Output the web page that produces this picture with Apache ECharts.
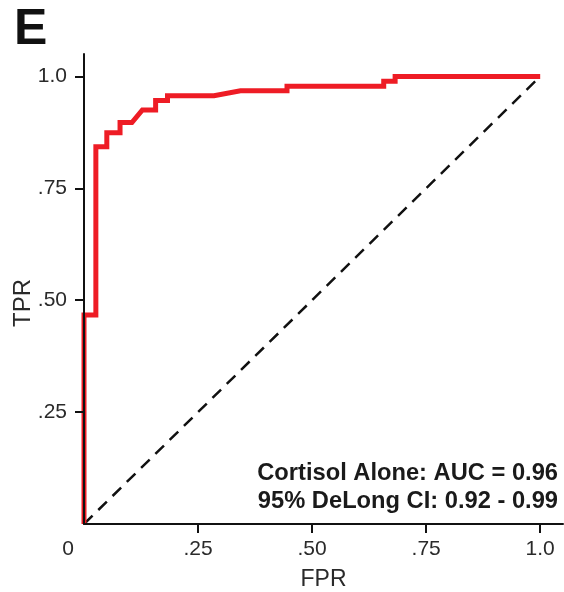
<!DOCTYPE html>
<html>
<head>
<meta charset="utf-8">
<script src="https://cdn.jsdelivr.net/npm/echarts@6/dist/echarts.min.js"></script>
<style>html,body{margin:0;padding:0;background:#fff}#c{width:564px;height:592px}</style>
</head>
<body>
<div id="c"></div>
<script>
// ROC curve (Cortisol Alone)
const fpr = [0, 0, 0.026, 0.026, 0.050, 0.050, 0.079, 0.079, 0.105, 0.128, 0.157, 0.157, 0.183, 0.183, 0.285, 0.343, 0.445, 0.445, 0.657, 0.657, 0.682, 0.682, 1.0];
const tpr = [0, 0.467, 0.467, 0.843, 0.843, 0.874, 0.874, 0.897, 0.897, 0.925, 0.925, 0.946, 0.946, 0.957, 0.957, 0.968, 0.968, 0.978, 0.978, 0.989, 0.989, 1.0, 1.0];
const refX = [0, 1];
const refY = [0, 1];
const tickValues = [0.25, 0.5, 0.75, 1.0];
const xLabelValues = [0, 0.25, 0.5, 0.75, 1.0];
const xTickLabels = ['0', '.25', '.50', '.75', '1.0'];
const yTickLabels = ['.25', '.50', '.75', '1.0'];
const panelLetter = 'E';
const annotation = ['Cortisol Alone: AUC = 0.96', '95% DeLong CI: 0.92 - 0.99'];

const FONT = '"Liberation Sans", Arial, sans-serif';
const chart = echarts.init(document.getElementById('c'));
chart.setOption({
  animation: false,
  backgroundColor: '#fff',
  title: {
    text: panelLetter, left: 9, top: 0,
    textStyle: { fontFamily: FONT, fontSize: 50, fontWeight: 'bold', color: '#111' }
  },
  grid: { left: 84, top: 54, width: 479, height: 470, containLabel: false, outerBoundsMode: 'none' },
  xAxis: {
    type: 'value', min: 0, max: 1.05, interval: 0.25, z: 5,
    name: 'FPR', nameLocation: 'middle', nameGap: 44,
    nameTextStyle: { fontFamily: FONT, fontSize: 23, color: '#2a2a2a' },
    splitLine: { show: false },
    axisLine: { lineStyle: { color: '#111', width: 2 } },
    axisTick: { show: true, length: 9, inside: false, customValues: tickValues, lineStyle: { color: '#111', width: 2 } },
    axisLabel: {
      customValues: xLabelValues, margin: 15,
      fontFamily: FONT, fontSize: 21, color: '#2a2a2a',
      formatter: v => {
        const i = xLabelValues.indexOf(v);
        if (i < 0) return '';
        return i === 0 ? '{z|' + xTickLabels[0] + '}' : xTickLabels[i];
      },
      rich: { z: { fontFamily: FONT, fontSize: 21, color: '#2a2a2a', padding: [0, 32, 0, 0] } }
    }
  },
  yAxis: {
    type: 'value', min: 0, max: 1.05, interval: 0.25, z: 5,
    name: 'TPR', nameLocation: 'middle', nameGap: 49, nameRotate: 90, nameMoveOverlap: false,
    nameTextStyle: { fontFamily: FONT, fontSize: 24, color: '#2a2a2a', padding: [0, 28, 0, 0] },
    splitLine: { show: false },
    axisLine: { lineStyle: { color: '#111', width: 2 } },
    axisTick: { show: true, length: 9, inside: false, customValues: tickValues, lineStyle: { color: '#111', width: 2 } },
    axisLabel: {
      customValues: tickValues, margin: 17,
      fontFamily: FONT, fontSize: 21, color: '#2a2a2a',
      formatter: v => { const i = tickValues.indexOf(v); return i < 0 ? '' : yTickLabels[i]; }
    }
  },
  graphic: [{
    type: 'text', right: 6, top: 459, z: 10,
    style: {
      text: annotation.join('\n'), textAlign: 'right',
      font: 'bold 23.7px ' + FONT, lineHeight: 28, fill: '#1a1a1a'
    }
  }],
  series: [
    {
      type: 'line', name: 'chance', showSymbol: false, silent: true, z: 2,
      data: refX.map((x, i) => [x, refY[i]]),
      lineStyle: { color: '#111', width: 2.5, type: [12, 8] }
    },
    {
      type: 'line', name: 'ROC', showSymbol: false, silent: true, z: 3,
      data: fpr.map((x, i) => [x, tpr[i]]),
      lineStyle: { color: '#ee1c25', width: 5, join: 'miter' }
    }
  ]
});
</script>
</body>
</html>
